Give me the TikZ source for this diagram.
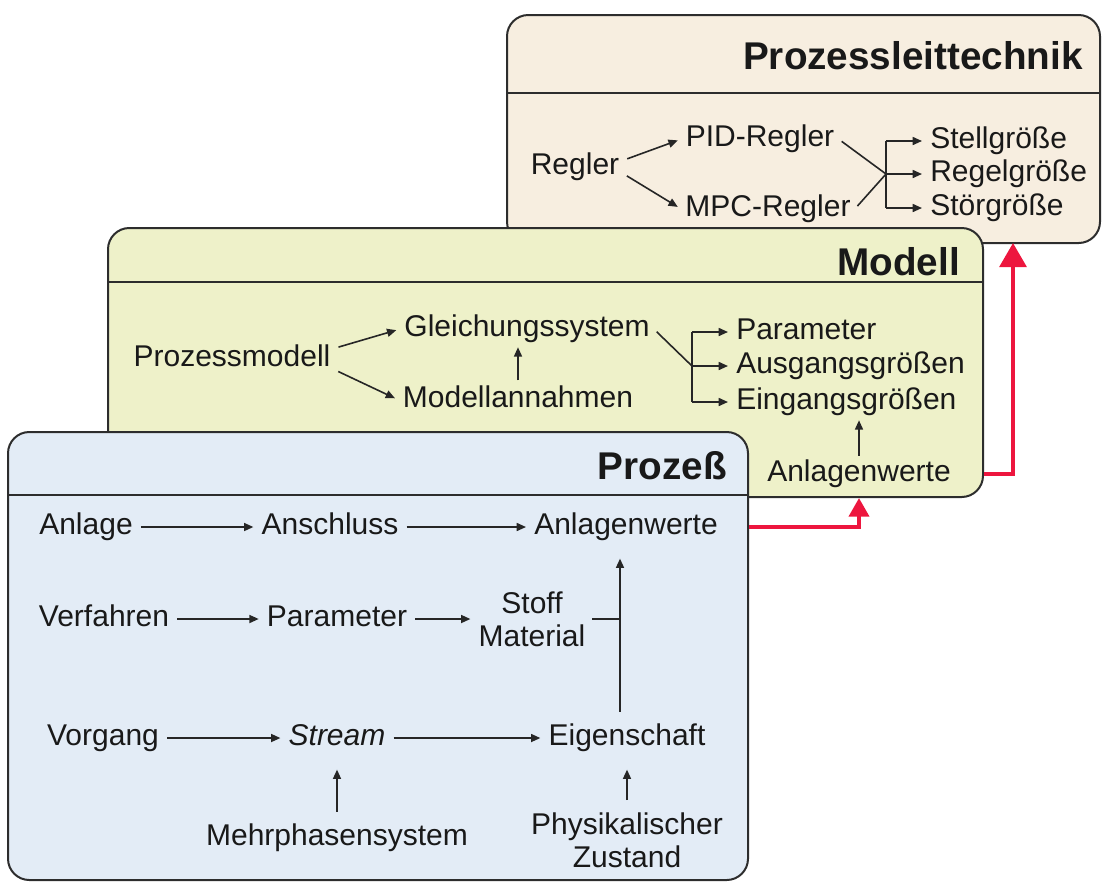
\documentclass[tikz,border=0pt]{standalone}
\usepackage{fontspec}
\setmainfont{Liberation Sans}
\usetikzlibrary{arrows.meta,fit,positioning}

\definecolor{pltfill}{RGB}{247,238,224}
\definecolor{modfill}{RGB}{238,241,201}
\definecolor{profill}{RGB}{227,236,246}
\definecolor{edge}{RGB}{45,45,45}
\definecolor{signal}{RGB}{237,22,62}

\begin{document}
\begin{tikzpicture}[x=0.75pt, y=-0.75pt,
  panel/.style = {draw=edge, line width=1.5pt, rounded corners=16pt, inner sep=0pt},
  rule/.style = {draw=edge, line width=1.5pt},
  title/.style = {font=\bfseries\fontsize{29}{33}\selectfont, anchor=east, inner sep=0pt, text=black!90},
  lbl/.style = {font=\fontsize{22.5}{25}\selectfont, text height=16pt, text depth=5pt, inner sep=3pt, text=black!90},
  multi/.style = {font=\fontsize{22.5}{25}\selectfont, align=center, inner sep=3pt, text=black!90},
  conn/.style = {line width=1.2pt, draw=black!85, -{Triangle[length=7pt,width=6pt]}, shorten <=3pt, shorten >=3pt},
  vconn/.style = {conn, shorten <=6pt, shorten >=10pt},
  line/.style = {line width=1.2pt, draw=black!85, shorten <=3pt},
  feed/.style = {draw=signal, line width=3pt}]

\useasboundingbox (0,0) rectangle (1102,883);

% Prozessleittechnik
\node[panel, fill=pltfill, fit={(507,15) (1100,243)}] (pltbox) {};
\draw[rule] (pltbox.west |- 0,93) -- (pltbox.east |- 0,93);
\node[title] (plttitle) at (1083,56) {Prozessleittechnik};
\node[lbl] (regler) at (575,167) {Regler};
\node[lbl] (pid) at (760,139) {PID-Regler};
\node[lbl] (mpc) at (768,209) {MPC-Regler};
\node[lbl, anchor=west] (stell) at (926,141) {Stellgröße};
\node[lbl, anchor=west] (regel) at (926,174) {Regelgröße};
\node[lbl, anchor=west] (stoer) at (926,208) {Störgröße};
\coordinate (pltbrk) at (886,0);
\draw[conn] (regler.8) -- (pid.west);
\draw[conn] (regler.-8) -- (mpc.west);
\draw[line] (pid.east) -- (pltbrk |- regel);
\draw[line] (mpc.east) -- (pltbrk |- regel);
\draw[line, shorten <=0pt] (pltbrk |- stell) -- (pltbrk |- stoer);
\draw[conn, shorten <=0pt] (pltbrk |- stell) -- (stell);
\draw[conn, shorten <=0pt] (pltbrk |- regel) -- (regel);
\draw[conn, shorten <=0pt] (pltbrk |- stoer) -- (stoer);

% Modell
\node[panel, fill=modfill, fit={(108,228) (983,497)}] (modbox) {};
\draw[rule] (modbox.west |- 0,282) -- (modbox.east |- 0,282);
\node[title] (modtitle) at (960,262) {Modell};
\node[lbl] (prozmod) at (232,359) {Prozessmodell};
\node[lbl] (gleich) at (527,329) {Gleichungssystem};
\node[lbl] (annahmen) at (518,400) {Modellannahmen};
\node[lbl, anchor=west] (mpar) at (732,332) {Parameter};
\node[lbl, anchor=west] (ausg) at (732,366) {Ausgangsgrößen};
\node[lbl, anchor=west] (eing) at (732,402) {Eingangsgrößen};
\node[lbl] (manlw) at (859,474) {Anlagenwerte};
\coordinate (modbrk) at (692,0);
\draw[conn] (prozmod.6) -- (gleich.west);
\draw[conn] (prozmod.-6) -- (annahmen.west);
\draw[conn, shorten <=1pt, shorten >=0pt] (annahmen.north) -- (annahmen.north |- gleich.south);
\draw[line] (gleich.east) -- (modbrk |- ausg);
\draw[line, shorten <=0pt] (modbrk |- mpar) -- (modbrk |- eing);
\draw[conn, shorten <=0pt] (modbrk |- mpar) -- (mpar);
\draw[conn, shorten <=0pt] (modbrk |- ausg) -- (ausg);
\draw[conn, shorten <=0pt] (modbrk |- eing) -- (eing);
\draw[conn, shorten <=0pt, shorten >=0pt] (manlw.north) -- (manlw.north |- eing.south);

% Prozess
\node[panel, fill=profill, fit={(8,432) (748,880)}] (probox) {};
\draw[rule] (probox.west |- 0,495) -- (probox.east |- 0,495);
\node[title] (protitle) at (727,466) {Prozeß};
\node[lbl] (anlage) at (86,527) {Anlage};
\node[lbl] (anschl) at (330,527) {Anschluss};
\node[lbl] (panlw) at (626,527) {Anlagenwerte};
\node[lbl] (verf) at (104,619) {Verfahren};
\node[lbl] (ppar) at (337,619) {Parameter};
\node[multi] (stoff) at (532,619) {Stoff\\Material};
\node[lbl] (vorg) at (103,738) {Vorgang};
\node[lbl] (stream) at (337,738) {\itshape Stream};
\node[lbl] (eigen) at (627,738) {Eigenschaft};
\node[lbl] (mehrph) at (337,838) {Mehrphasensystem};
\node[multi] (phys) at (627,840) {Physikalischer\\Zustand};
\coordinate (provert) at (620,0);
\draw[conn] (anlage) -- (anschl);
\draw[conn] (anschl) -- (panlw);
\draw[conn] (verf) -- (ppar);
\draw[conn] (ppar) -- (stoff);
\draw[conn] (vorg) -- (stream);
\draw[conn] (stream) -- (eigen);
\draw[vconn] (mehrph.north) -- (mehrph.north |- stream.south);
\draw[vconn] (phys.north) -- (phys.north |- eigen.south);
\draw[line, shorten <=2pt] (stoff.east) -- (stoff.east -| provert);
\draw[vconn] (eigen.north -| provert) -- (panlw.south -| provert);

% Rueckfuehrung
\coordinate (pltin) at (1013,243);
\draw[feed, -{Triangle[length=14pt,width=15pt]}] (probox.east |- panlw) -| (manlw |- modbox.south);
\draw[feed, -{Triangle[length=18pt,width=20pt]}] (modbox.east |- manlw) -| (pltin);
\end{tikzpicture}
\end{document}
